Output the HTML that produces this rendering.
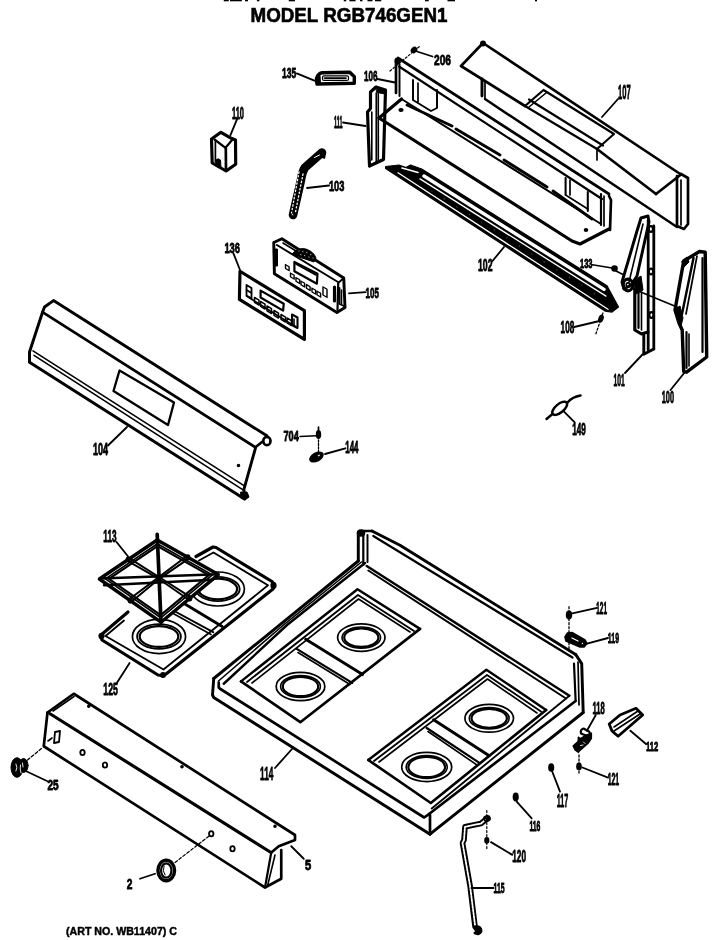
<!DOCTYPE html>
<html><head><meta charset="utf-8"><style>
html,body{margin:0;padding:0;background:#fff;}
svg{display:block;filter:grayscale(1);}
text{font-family:"Liberation Sans",sans-serif;-webkit-font-smoothing:antialiased;}
</style></head><body>
<svg width="720" height="940" viewBox="0 0 720 940" stroke="#000" fill="none" stroke-linejoin="round" stroke-linecap="round">
<text x="250.5" y="21.5" font-size="19.6" font-weight="bold" textLength="197" lengthAdjust="spacingAndGlyphs" stroke="#000" stroke-width="0.6" fill="#000">MODEL RGB746GEN1</text>
<rect x="223.75" y="0" width="5.00" height="1.3" fill="#000" stroke="none"/>
<rect x="230" y="0" width="11.90" height="1.3" fill="#000" stroke="none"/>
<rect x="245" y="0" width="3.00" height="1.3" fill="#000" stroke="none"/>
<rect x="256.9" y="0" width="2.50" height="1.3" fill="#000" stroke="none"/>
<rect x="288.75" y="0" width="6.25" height="1.3" fill="#000" stroke="none"/>
<rect x="343.75" y="0" width="2.50" height="1.3" fill="#000" stroke="none"/>
<rect x="349.4" y="0" width="6.20" height="1.3" fill="#000" stroke="none"/>
<rect x="360" y="0" width="2.50" height="1.3" fill="#000" stroke="none"/>
<rect x="367.5" y="0" width="5.00" height="1.3" fill="#000" stroke="none"/>
<rect x="375" y="0" width="6.25" height="1.3" fill="#000" stroke="none"/>
<rect x="425" y="0" width="3.75" height="1.3" fill="#000" stroke="none"/>
<rect x="447.5" y="0" width="7.50" height="1.3" fill="#000" stroke="none"/>
<rect x="535" y="0" width="2.00" height="1.3" fill="#000" stroke="none"/>
<text x="282" y="78" font-size="15.1" textLength="14.2" lengthAdjust="spacingAndGlyphs" stroke="#000" stroke-width="0.85" fill="#000" font-weight="bold">135</text>
<line x1="296.8" y1="73.4" x2="315" y2="80.8" stroke-width="1.95"/>
<path d="M316.5,78.5 Q318,73.5 322,72.8 L349.8,72.3 L354.3,76.8 L354.3,83.3 L317,84 Z" stroke-width="3.42" fill="none"/>
<rect x="322.5" y="75.8" width="26" height="4.6" rx="1.5" stroke="#000" stroke-width="1.2" fill="none"/>
<path d="M316,78 Q317,75 320,75.5 L320.5,84 L316.5,84 Z" fill="#000"/>
<line x1="324.5" y1="78.1" x2="346" y2="78.1" stroke-width="1.6"/>
<text x="232" y="118.8" font-size="16.4" textLength="12.0" lengthAdjust="spacingAndGlyphs" stroke="#000" stroke-width="0.85" fill="#000" font-weight="bold">110</text>
<line x1="236.9" y1="119.5" x2="230.5" y2="135" stroke-width="1.95"/>
<path d="M211.5,139 L220.9,132.3 L231.3,138.3 L235.5,140 L235.7,164.2 L226.1,171 L212.2,163 Z" stroke-width="3.17" fill="none"/>
<polyline points="214.5,139.5 225.5,147.8 232.5,139.5" stroke-width="2.2" fill="none"/>
<line x1="225.8" y1="148" x2="226" y2="170.5" stroke-width="2.68"/>
<line x1="215.4" y1="141" x2="215.4" y2="162" stroke-width="1.71"/>
<path d="M216,166 L216,160 Q218,157.5 220.5,160 L221,167.5 Z" fill="#000"/>
<path d="M322,152.5 L305,167.5 Q302,172 301,180 L293,215" stroke="#000" stroke-width="8.6" stroke-linecap="round" stroke-linejoin="round" fill="none"/>
<path d="M320,150 L325,154 L324.5,158 L321,157 Z" fill="#000" stroke="#000" stroke-width="1.5"/>
<path d="M299,172 L291.5,213" stroke="#fff" stroke-width="1.3" stroke-dasharray="1.3,2.4" fill="none"/>
<path d="M303,174 L295.5,212" stroke="#fff" stroke-width="1.3" stroke-dasharray="1.3,2.4" fill="none"/>
<line x1="314.5" y1="157.5" x2="319.5" y2="155" stroke="#fff" stroke-width="1"/>
<circle cx="292.8" cy="214.5" r="1.2" fill="#fff"/>
<text x="328.9" y="191.1" font-size="15.4" textLength="15.5" lengthAdjust="spacingAndGlyphs" stroke="#000" stroke-width="0.85" fill="#000" font-weight="bold">103</text>
<line x1="307" y1="188" x2="329" y2="185.5" stroke-width="1.83"/>
<text x="334" y="127.5" font-size="16.0" textLength="8.5" lengthAdjust="spacingAndGlyphs" stroke="#000" stroke-width="0.85" fill="#000" font-weight="bold">111</text>
<line x1="343" y1="122.5" x2="365.5" y2="126" stroke-width="1.83"/>
<path d="M370.5,108.5 L370.5,92 L376,87 L385.5,90 L383.5,159.5 L369.5,166 L367.5,112 Z" stroke-width="3.17" fill="none"/>
<polygon points="376,87 385.5,90 385.3,94 377,92.5" fill="#000" stroke="#000" stroke-width="1"/>
<line x1="376.3" y1="93" x2="376.3" y2="163" stroke-width="1.71"/>
<line x1="378.3" y1="93" x2="378.3" y2="162" stroke-width="1.6"/>
<line x1="371.8" y1="112" x2="371.8" y2="160" stroke-width="1.6"/>
<line x1="390" y1="71" x2="420" y2="46" stroke-width="1.2" stroke-dasharray="2,2"/>
<ellipse cx="414" cy="50" rx="2.5" ry="1.8" transform="rotate(-40 414 50)" stroke-width="2.2" fill="#000"/>
<line x1="417" y1="51.5" x2="432.5" y2="56.5" stroke-width="1.83"/>
<text x="434" y="65" font-size="15.3" textLength="17.0" lengthAdjust="spacingAndGlyphs" stroke="#000" stroke-width="0.85" fill="#000" font-weight="bold">206</text>
<text x="364" y="81" font-size="15.3" textLength="13.5" lengthAdjust="spacingAndGlyphs" stroke="#000" stroke-width="0.85" fill="#000" font-weight="bold">106</text>
<line x1="377.5" y1="79" x2="395" y2="82.5" stroke-width="1.83"/>
<line x1="398" y1="58" x2="609" y2="194" stroke-width="2.68"/>
<line x1="399" y1="66.5" x2="602" y2="199" stroke-width="2.2"/>
<line x1="396" y1="60" x2="396" y2="93" stroke-width="2.68"/>
<line x1="399.5" y1="64" x2="399.5" y2="96" stroke-width="1.95"/>
<ellipse cx="397.5" cy="61" rx="2" ry="2.5" transform="rotate(0 397.5 61)" stroke-width="1.95" fill="#000"/>
<polyline points="413,80 413,100 431,111 437,108 437,90" stroke-width="1.95" fill="none"/>
<line x1="418" y1="83" x2="418" y2="102" stroke-width="1.71"/>
<polyline points="401.5,99 379,118 572,241 580,244 609,229" stroke-width="3.17" fill="none"/>
<line x1="401.5" y1="99" x2="601" y2="224" stroke-width="1.95"/>
<line x1="407" y1="105" x2="452" y2="126" stroke-width="2.93"/>
<line x1="456" y1="129" x2="500" y2="155" stroke-width="2.93"/>
<line x1="504" y1="160" x2="547" y2="187" stroke-width="2.93"/>
<line x1="553" y1="191" x2="592" y2="219" stroke-width="2.93"/>
<polyline points="601,194 601,225" stroke-width="2.2" fill="none"/>
<polyline points="604,196 604,226" stroke-width="1.71" fill="none"/>
<polyline points="609,196 611,200 610,230" stroke-width="2.68" fill="none"/>
<line x1="565.6" y1="178" x2="565.6" y2="195" stroke-width="2.07"/>
<line x1="570" y1="180" x2="570" y2="195" stroke-width="1.71"/>
<line x1="587.8" y1="192" x2="587.8" y2="211" stroke-width="2.07"/>
<line x1="565.6" y1="195" x2="587.8" y2="209" stroke-width="1.6"/>
<ellipse cx="586" cy="230" rx="1.5" ry="1.2" transform="rotate(0 586 230)" stroke-width="1.6" fill="#000"/>
<ellipse cx="401" cy="110" rx="1.8" ry="1.3" transform="rotate(0 401 110)" stroke-width="1.6" fill="#000"/>
<ellipse cx="483" cy="43.5" rx="2.2" ry="2.2" transform="rotate(0 483 43.5)" stroke-width="1.6" fill="#000"/>
<polyline points="483,43 461,66 525,106" stroke-width="2.68" fill="none"/>
<line x1="483" y1="43" x2="681" y2="174.5" stroke-width="2.68"/>
<polyline points="525,106 543.5,90 614,134 597,149 525,106" stroke-width="2.2" fill="none"/>
<line x1="529" y1="107" x2="546" y2="93" stroke-width="1.6"/>
<line x1="529" y1="99.5" x2="603" y2="145.5" stroke-width="2.2"/>
<line x1="597" y1="149" x2="656" y2="194" stroke-width="2.68"/>
<polyline points="656,194 681,174.5" stroke-width="2.68" fill="none"/>
<line x1="482" y1="79" x2="482" y2="96" stroke-width="2.93"/>
<line x1="485" y1="81" x2="485" y2="99" stroke-width="1.71"/>
<line x1="485" y1="99" x2="677" y2="227" stroke-width="2.44"/>
<line x1="597" y1="150" x2="597" y2="160" stroke-width="1.71"/>
<polyline points="677,176 677,226 684,229 688,224 688,178 681,174" stroke-width="2.68" fill="none"/>
<line x1="681" y1="180" x2="681" y2="225" stroke-width="1.71"/>
<text x="618" y="98.6" font-size="20.3" textLength="12.6" lengthAdjust="spacingAndGlyphs" stroke="#000" stroke-width="0.85" fill="#000" font-weight="bold">107</text>
<line x1="618" y1="99" x2="602" y2="117" stroke-width="1.83"/>
<polygon points="385.6,166.5 399,165 406,167.5 410.5,165 421.7,169.0 607,285.7 618.5,307 612,312.1 605,311.1 385.6,168.5" fill="#000" stroke="#000" stroke-width="1.2" stroke-linejoin="round"/>
<line x1="424" y1="176.0" x2="604" y2="289.4" stroke="#fff" stroke-width="3.4"/>
<line x1="402" y1="168.0" x2="418" y2="172.5" stroke="#fff" stroke-width="1.6"/>
<line x1="420" y1="178.9" x2="606" y2="296.1" stroke="#fff" stroke-width="1.3"/>
<line x1="398" y1="172.8" x2="608" y2="309.3" stroke="#fff" stroke-width="1.3"/>
<circle cx="432.0" cy="191.0" r="0.8" fill="#fff"/>
<circle cx="444.5" cy="198.9" r="0.8" fill="#fff"/>
<circle cx="457.0" cy="206.7" r="0.8" fill="#fff"/>
<circle cx="469.5" cy="214.6" r="0.8" fill="#fff"/>
<circle cx="482.0" cy="222.5" r="0.8" fill="#fff"/>
<circle cx="494.5" cy="230.4" r="0.8" fill="#fff"/>
<circle cx="507.0" cy="238.2" r="0.8" fill="#fff"/>
<circle cx="519.5" cy="246.1" r="0.8" fill="#fff"/>
<circle cx="532.0" cy="254.0" r="0.8" fill="#fff"/>
<circle cx="544.5" cy="261.9" r="0.8" fill="#fff"/>
<circle cx="557.0" cy="269.7" r="0.8" fill="#fff"/>
<circle cx="569.5" cy="277.6" r="0.8" fill="#fff"/>
<circle cx="582.0" cy="285.5" r="0.8" fill="#fff"/>
<circle cx="594.5" cy="293.4" r="0.8" fill="#fff"/>
<text x="478" y="271.3" font-size="17.1" textLength="14.5" lengthAdjust="spacingAndGlyphs" stroke="#000" stroke-width="0.85" fill="#000" font-weight="bold">102</text>
<line x1="492.5" y1="261" x2="504" y2="247" stroke-width="1.83"/>
<text x="580" y="268.2" font-size="12.5" textLength="12.4" lengthAdjust="spacingAndGlyphs" stroke="#000" stroke-width="0.85" fill="#000" font-weight="bold">133</text>
<line x1="592.4" y1="264.8" x2="612" y2="268" stroke-width="1.6"/>
<ellipse cx="614.5" cy="268.5" rx="2.5" ry="2.5" transform="rotate(0 614.5 268.5)" stroke-width="1.6" fill="#000"/>
<text x="560.6" y="332.8" font-size="16.4" textLength="13.6" lengthAdjust="spacingAndGlyphs" stroke="#000" stroke-width="0.85" fill="#000" font-weight="bold">108</text>
<line x1="574.2" y1="327" x2="599.5" y2="321" stroke-width="1.83"/>
<line x1="603" y1="313" x2="595.5" y2="335" stroke-width="1.3" stroke-dasharray="2,2"/>
<ellipse cx="601" cy="318.5" rx="1.8" ry="3.2" transform="rotate(20 601 318.5)" stroke-width="1.71" fill="#000"/>
<path d="M641,218 L648,216 L649,222 L637,276 L631,285 L624,289 L622,282 L637,231 Z" stroke-width="2.93" fill="none"/>
<line x1="643" y1="224" x2="629" y2="282" stroke-width="1.6"/>
<ellipse cx="628" cy="285" rx="4.8" ry="5.8" transform="rotate(0 628 285)" stroke-width="3.17" fill="none"/>
<ellipse cx="628" cy="285" rx="1.8" ry="2.2" transform="rotate(0 628 285)" stroke-width="1.71" fill="none"/>
<path d="M633,281 L641,276 L643,290 L636,294 Z" fill="#000" stroke="#000" stroke-width="1"/>
<polyline points="648.2,220 648.2,350" stroke-width="2.81" fill="none"/>
<polyline points="653.8,226 653.8,349" stroke-width="2.81" fill="none"/>
<ellipse cx="650.8" cy="229" rx="2.2" ry="2.8" transform="rotate(0 650.8 229)" stroke-width="2.2" fill="none"/>
<ellipse cx="651" cy="271.5" rx="2.2" ry="2.8" transform="rotate(0 651 271.5)" stroke-width="2.2" fill="none"/>
<ellipse cx="651.5" cy="315" rx="2.2" ry="2.8" transform="rotate(0 651.5 315)" stroke-width="2.2" fill="none"/>
<polyline points="634.8,289 634.8,330 641.5,334 648,332" stroke-width="3.17" fill="none"/>
<line x1="638.5" y1="292" x2="638.5" y2="328" stroke-width="2.2"/>
<line x1="641.5" y1="292" x2="641.5" y2="330" stroke-width="1.6"/>
<polyline points="643.8,335 643.8,354.3 653.8,349" stroke-width="2.93" fill="none"/>
<line x1="616" y1="271" x2="624" y2="275" stroke-width="1.6"/>
<line x1="631" y1="288" x2="677" y2="307" stroke-width="1.6"/>
<text x="613.6" y="385.6" font-size="17.1" textLength="11.2" lengthAdjust="spacingAndGlyphs" stroke="#000" stroke-width="0.85" fill="#000" font-weight="bold">101</text>
<line x1="625" y1="373" x2="642.5" y2="354.5" stroke-width="1.83"/>
<path d="M683.7,261 L699.5,251.5 L705.2,252.2 L706.7,357 L686.6,372.2 L683.7,371.4 L682.2,330 L679,323 L675,310 Z" stroke-width="3.42" fill="none"/>
<line x1="693.5" y1="258" x2="682" y2="314" stroke-width="2.44"/>
<line x1="697" y1="256" x2="686" y2="314" stroke-width="1.71"/>
<line x1="686.5" y1="332" x2="686.5" y2="368" stroke-width="2.2"/>
<line x1="689" y1="334" x2="689" y2="366" stroke-width="1.6"/>
<line x1="702.5" y1="258" x2="702.5" y2="352" stroke-width="2.2"/>
<path d="M682,261 L687,257 L689,262 L684,267 Z" fill="#000"/>
<path d="M675,309 L680,306 L683,318 L681,326 Z" fill="#000"/>
<text x="661.7" y="403.4" font-size="17.2" textLength="12.3" lengthAdjust="spacingAndGlyphs" stroke="#000" stroke-width="0.85" fill="#000" font-weight="bold">100</text>
<line x1="670.5" y1="390" x2="685" y2="372" stroke-width="1.83"/>
<polygon points="240,271.25 239.4,299.4 304.4,339.4 304.4,310.6" stroke-width="3.17" fill="none"/>
<polygon points="260.6,290.6 283.75,303.75 283.1,310.6 260.6,297.5" stroke-width="2.2" fill="none"/>
<polygon points="246.5,285 251.5,288 251.5,298.5 246.5,295.5" stroke-width="1.83" fill="none"/>
<line x1="246.5" y1="290" x2="251.5" y2="293" stroke-width="1.6"/>
<polygon points="254.5,297.5 259.0,300.2 259.0,305.0 254.5,302.3" stroke="#000" stroke-width="1.5" fill="none"/>
<polygon points="260.5,301.5 265.0,304.2 265.0,309.0 260.5,306.3" stroke="#000" stroke-width="1.5" fill="none"/>
<polygon points="267,306 271.5,308.7 271.5,313.5 267,310.8" stroke="#000" stroke-width="1.5" fill="none"/>
<polygon points="274,310.5 278.5,313.2 278.5,318.0 274,315.3" stroke="#000" stroke-width="1.5" fill="none"/>
<polygon points="281,314.5 285.5,317.2 285.5,322.0 281,319.3" stroke="#000" stroke-width="1.5" fill="none"/>
<polygon points="287,318 291.5,320.7 291.5,325.5 287,322.8" stroke="#000" stroke-width="1.5" fill="none"/>
<polygon points="292,314.5 297.5,317.5 297.5,328 292,325" stroke-width="2.07" fill="none"/>
<line x1="294" y1="319" x2="294" y2="325" stroke-width="1.6"/>
<line x1="246.5" y1="296" x2="296" y2="327" stroke-width="1.6"/>
<text x="224.4" y="253.3" font-size="15.4" textLength="15.6" lengthAdjust="spacingAndGlyphs" stroke="#000" stroke-width="0.85" fill="#000" font-weight="bold">136</text>
<line x1="233.5" y1="253.5" x2="240" y2="270" stroke-width="1.83"/>
<path d="M273.75,242.5 L281.9,238.75 L343.75,278.1 L345,307.5 L336.9,312.5 L274.4,273.75 Z" stroke-width="2.93" fill="none"/>
<polyline points="276.9,245 338.75,282.5 343.75,278.1" stroke-width="1.95" fill="none"/>
<line x1="338.2" y1="283" x2="337.5" y2="310" stroke-width="2.2"/>
<line x1="283" y1="243" x2="296" y2="251" stroke-width="1.6"/>
<path d="M292,254 Q298,247 306,249 Q314,252 316,258 L314,262 L296,256 Z" fill="#000" stroke="#000" stroke-width="1"/>
<circle cx="299" cy="251" r="1.1" fill="#fff"/>
<circle cx="303" cy="251.5" r="1.1" fill="#fff"/>
<circle cx="307" cy="252.5" r="1.1" fill="#fff"/>
<circle cx="311" cy="254.5" r="1.1" fill="#fff"/>
<circle cx="301" cy="254.5" r="1.1" fill="#fff"/>
<circle cx="305" cy="255.5" r="1.1" fill="#fff"/>
<circle cx="309" cy="257" r="1.1" fill="#fff"/>
<circle cx="313" cy="258" r="1.1" fill="#fff"/>
<polygon points="294.4,261.9 317.5,273.75 316.9,283.75 294.4,271.25" stroke-width="2.2" fill="none"/>
<line x1="296" y1="264" x2="316" y2="275" stroke-width="1.6"/>
<rect x="274" y="249" width="3.5" height="17" fill="#000"/>
<rect x="285.5" y="264.5" width="3.6" height="3.8" transform="skewY(30) translate(0,-164.7)" stroke="#000" stroke-width="1.4" fill="none"/>
<rect x="290.5" y="273" width="3.6" height="3.8" transform="skewY(30) translate(0,-167.6)" stroke="#000" stroke-width="1.4" fill="none"/>
<rect x="296" y="277.5" width="3.6" height="3.8" transform="skewY(30) translate(0,-170.8)" stroke="#000" stroke-width="1.4" fill="none"/>
<rect x="301" y="281" width="3.6" height="3.8" transform="skewY(30) translate(0,-173.7)" stroke="#000" stroke-width="1.4" fill="none"/>
<rect x="306.5" y="284.5" width="3.6" height="3.8" transform="skewY(30) translate(0,-176.9)" stroke="#000" stroke-width="1.4" fill="none"/>
<rect x="312" y="288" width="3.6" height="3.8" transform="skewY(30) translate(0,-180.0)" stroke="#000" stroke-width="1.4" fill="none"/>
<rect x="317" y="291" width="3.6" height="3.8" transform="skewY(30) translate(0,-182.9)" stroke="#000" stroke-width="1.4" fill="none"/>
<rect x="323" y="287" width="4" height="8" transform="skewY(30) translate(0,-186.5)" stroke="#000" stroke-width="1.4" fill="none"/>
<line x1="334.5" y1="287" x2="334.5" y2="301" stroke-width="3.17"/>
<polyline points="339.5,288 339.5,304 344,306" stroke-width="1.83" fill="none"/>
<line x1="341.5" y1="290" x2="341.5" y2="304" stroke-width="1.6"/>
<text x="365.6" y="297.8" font-size="13.9" textLength="13.3" lengthAdjust="spacingAndGlyphs" stroke="#000" stroke-width="0.85" fill="#000" font-weight="bold">105</text>
<line x1="349" y1="293.3" x2="365.6" y2="292.2" stroke-width="1.83"/>
<path d="M42.5,312.2 L44.5,307 L53.5,300.6 L266.9,435.8" stroke-width="2.93" fill="none"/>
<line x1="42.5" y1="312.2" x2="255.4" y2="447.3" stroke-width="2.68"/>
<path d="M255.4,447.3 L262,442" stroke-width="2.68" fill="none"/>
<polyline points="42.5,312.2 29.5,352 29.5,362.2 244.5,499" stroke-width="2.93" fill="none"/>
<line x1="33" y1="350.9" x2="244" y2="485.7" stroke-width="1.6"/>
<line x1="34" y1="355.4" x2="243" y2="489.8" stroke-width="1.6"/>
<polyline points="255.4,448.3 243.9,489.4 244.5,497" stroke-width="2.93" fill="none"/>
<ellipse cx="266.9" cy="441" rx="3.6" ry="4.2" transform="rotate(0 266.9 441)" stroke-width="2.68" fill="none"/>
<path d="M241,492 L247,492 L249,497 L245,500 L241,498 Z" fill="#000"/>
<polygon points="119.5,370.5 113.5,391 168,425 174,402.5" stroke-width="2.32" fill="none"/>
<ellipse cx="238.5" cy="465.5" rx="1" ry="1" transform="rotate(0 238.5 465.5)" stroke-width="1.6" fill="#000"/>
<text x="93.1" y="455" font-size="15.6" textLength="15.0" lengthAdjust="spacingAndGlyphs" stroke="#000" stroke-width="0.85" fill="#000" font-weight="bold">104</text>
<line x1="108" y1="445.5" x2="127" y2="427" stroke-width="1.83"/>
<text x="283.5" y="441.4" font-size="14.4" textLength="15.2" lengthAdjust="spacingAndGlyphs" stroke="#000" stroke-width="0.85" fill="#000" font-weight="bold">704</text>
<line x1="300" y1="436.5" x2="316.5" y2="435.8" stroke-width="1.6"/>
<line x1="318.5" y1="427" x2="318.5" y2="430" stroke-width="1.71"/>
<ellipse cx="318.5" cy="434.5" rx="1.8" ry="3.5" transform="rotate(0 318.5 434.5)" stroke-width="1.83" fill="#000"/>
<line x1="318.5" y1="440" x2="318.5" y2="452" stroke-width="1.3" stroke-dasharray="2,1.5"/>
<ellipse cx="316.5" cy="457" rx="7" ry="3.8" transform="rotate(-28 316.5 457)" stroke-width="1.83" fill="#000"/>
<ellipse cx="318.8" cy="455.5" rx="2" ry="1.5" transform="rotate(-28 318.8 455.5)" stroke-width="1.6" fill="#fff"/>
<text x="345.3" y="453.2" font-size="15.6" textLength="13.2" lengthAdjust="spacingAndGlyphs" stroke="#000" stroke-width="0.85" fill="#000" font-weight="bold">144</text>
<line x1="325" y1="454" x2="345.3" y2="448.3" stroke-width="1.83"/>
<ellipse cx="559.7" cy="408.3" rx="9" ry="4.2" transform="rotate(-40 559.7 408.3)" stroke-width="2.44" fill="none"/>
<line x1="546.5" y1="419" x2="552.5" y2="414" stroke-width="2.44"/>
<path d="M567.5,402.5 Q572,397 580.5,395.5" stroke-width="2.44" fill="none"/>
<line x1="564" y1="411.7" x2="574.7" y2="422.4" stroke-width="1.83"/>
<text x="572.3" y="434.6" font-size="15.6" textLength="13.6" lengthAdjust="spacingAndGlyphs" stroke="#000" stroke-width="0.85" fill="#000" font-weight="bold">149</text>
<polyline points="100.4,635.5 128,612" stroke-width="3.17" fill="none"/>
<polyline points="196,556.5 213,547 216,547.5 272,581.5 274.6,585.3 273,589 166,674 162.6,675.6 158,675 102,640 100.4,635.5" stroke-width="3.17" fill="none"/>
<polyline points="105.5,636 124,620.5" stroke-width="1.83" fill="none"/>
<polyline points="199,560.5 213.5,552.5 268,585.3 163.5,669.5 105.5,636" stroke-width="1.83" fill="none"/>
<ellipse cx="273.5" cy="585.5" rx="2.3" ry="2.6" transform="rotate(0 273.5 585.5)" stroke-width="1.6" fill="#000"/>
<ellipse cx="101.5" cy="636" rx="2.2" ry="2.4" transform="rotate(0 101.5 636)" stroke-width="1.6" fill="#000"/>
<ellipse cx="163" cy="675" rx="2.2" ry="2.2" transform="rotate(0 163 675)" stroke-width="1.6" fill="#000"/>
<line x1="175" y1="598" x2="222.2" y2="626.5" stroke-width="2.93"/>
<line x1="165" y1="606" x2="213.2" y2="632.2" stroke-width="1.95"/>
<line x1="166" y1="609.5" x2="211" y2="634.5" stroke-width="1.6"/>
<ellipse cx="159" cy="636.5" rx="26.6" ry="17.1" transform="rotate(0 159 636.5)" stroke-width="1.71" fill="none"/>
<ellipse cx="159" cy="636.5" rx="21.9" ry="12.3" transform="rotate(0 159 636.5)" stroke-width="1.83" fill="none"/>
<ellipse cx="159" cy="636.5" rx="19.3" ry="10.4" transform="rotate(0 159 636.5)" stroke-width="2.2" fill="none"/>
<ellipse cx="217.8" cy="589" rx="26.6" ry="17" transform="rotate(0 217.8 589)" stroke-width="1.71" fill="none"/>
<ellipse cx="217.8" cy="589" rx="21.9" ry="12.1" transform="rotate(0 217.8 589)" stroke-width="1.83" fill="none"/>
<ellipse cx="217.8" cy="589" rx="19.3" ry="10.3" transform="rotate(0 217.8 589)" stroke-width="2.2" fill="none"/>
<text x="103.3" y="695" font-size="16.3" textLength="14.6" lengthAdjust="spacingAndGlyphs" stroke="#000" stroke-width="0.85" fill="#000" font-weight="bold">125</text>
<line x1="116.5" y1="683.5" x2="129.6" y2="663" stroke-width="1.83"/>
<polygon points="99.4,579.0 157.2,540.0 218.3,574.6 161.0,622.2" fill="#fff" stroke="none"/>
<polygon points="99.4,579.0 157.2,540.0 218.3,574.6 161.0,622.2" stroke-width="3.42" fill="none"/>
<polygon points="105.4,578.9 157.4,543.8 212.4,574.9 160.8,617.8" stroke-width="1.71" fill="none"/>
<polygon points="108.9,578.8 157.5,546.1 208.8,575.1 160.7,615.1" stroke-width="2.2" fill="none"/>
<line x1="157.2" y1="534.4" x2="161" y2="622" stroke-width="3.66"/>
<line x1="100" y1="578.5" x2="218" y2="574.2" stroke-width="2.44"/>
<line x1="104" y1="585.3" x2="213" y2="579.8" stroke-width="2.44"/>
<line x1="127.5" y1="560.9" x2="158.6" y2="578.7" stroke-width="1.95"/>
<line x1="129.1" y1="558.1" x2="159.4" y2="577.3" stroke-width="1.95"/>
<ellipse cx="128.3" cy="559.5" rx="1.8" ry="2.2" transform="rotate(0 128.3 559.5)" stroke-width="1.71" fill="#000"/>
<line x1="186.9" y1="556.0" x2="158.5" y2="577.4" stroke-width="1.95"/>
<line x1="188.7" y1="558.6" x2="159.5" y2="578.6" stroke-width="1.95"/>
<ellipse cx="187.8" cy="557.3" rx="1.8" ry="2.2" transform="rotate(0 187.8 557.3)" stroke-width="1.71" fill="#000"/>
<line x1="190.6" y1="597.1" x2="159.4" y2="577.3" stroke-width="1.95"/>
<line x1="188.8" y1="599.7" x2="158.6" y2="578.7" stroke-width="1.95"/>
<ellipse cx="189.7" cy="598.4" rx="1.8" ry="2.2" transform="rotate(0 189.7 598.4)" stroke-width="1.71" fill="#000"/>
<line x1="131.2" y1="601.9" x2="159.5" y2="578.6" stroke-width="1.95"/>
<line x1="129.2" y1="599.3" x2="158.5" y2="577.4" stroke-width="1.95"/>
<ellipse cx="130.2" cy="600.6" rx="1.8" ry="2.2" transform="rotate(0 130.2 600.6)" stroke-width="1.71" fill="#000"/>
<text x="103.3" y="541.9" font-size="16.2" textLength="13.2" lengthAdjust="spacingAndGlyphs" stroke="#000" stroke-width="0.85" fill="#000" font-weight="bold">113</text>
<line x1="116.5" y1="542" x2="128.1" y2="556.5" stroke-width="1.83"/>
<ellipse cx="361" cy="533" rx="3.5" ry="3" transform="rotate(0 361 533)" stroke-width="1.6" fill="#000"/>
<line x1="358.3" y1="533" x2="358.3" y2="561" stroke-width="2.93"/>
<line x1="363.3" y1="535" x2="363.3" y2="565" stroke-width="2.2"/>
<line x1="367.5" y1="535" x2="367.5" y2="562" stroke-width="1.95"/>
<line x1="363" y1="531" x2="372" y2="531" stroke-width="2.68"/>
<polyline points="372,531 400,545.2 575.6,654.4" stroke-width="2.93" fill="none"/>
<line x1="373.3" y1="536" x2="572.5" y2="657.5" stroke-width="2.2"/>
<line x1="366.7" y1="566" x2="569.4" y2="695.7" stroke-width="2.44"/>
<line x1="368.3" y1="570.5" x2="566" y2="698.5" stroke-width="1.95"/>
<polyline points="575.6,654.4 581.7,663.6 583.2,712.5" stroke-width="2.93" fill="none"/>
<line x1="574" y1="663.6" x2="575.6" y2="700.3" stroke-width="2.2"/>
<line x1="578" y1="662" x2="579" y2="705" stroke-width="1.71"/>
<line x1="358.3" y1="561" x2="213.75" y2="678.5" stroke-width="2.93"/>
<polyline points="361.5,562 283.5,625 218.5,681" stroke-width="1.6" fill="none"/>
<polyline points="365,563 287,625 223.75,683.75" stroke-width="2.44" fill="none"/>
<polyline points="213.75,678.5 212.5,695 213.75,697.5 430,834.2" stroke-width="2.93" fill="none"/>
<polyline points="218.75,682.5 218.75,687.5 220,688.75 424.2,817.5 430,813.3" stroke-width="2.68" fill="none"/>
<line x1="430" y1="815" x2="430" y2="834.2" stroke-width="2.68"/>
<line x1="430" y1="813.3" x2="575.6" y2="701" stroke-width="2.68"/>
<line x1="431.7" y1="808.5" x2="569.4" y2="695.7" stroke-width="1.83"/>
<line x1="430" y1="834.2" x2="583.2" y2="712.5" stroke-width="2.93"/>
<polyline points="241,681.4 357.5,589.2 420,628.9" stroke-width="2.44" fill="none"/>
<polyline points="247,682 358,595 414,631" stroke-width="1.83" fill="none"/>
<polyline points="252,683 358.5,599 410,632" stroke-width="1.6" fill="none"/>
<polyline points="241,681.4 300.3,722.2 420,628.9" stroke-width="2.68" fill="none"/>
<line x1="305.7" y1="639.2" x2="362.6" y2="674.6" stroke-width="2.93"/>
<line x1="296.7" y1="648.9" x2="352.2" y2="682.9" stroke-width="2.2"/>
<line x1="298" y1="652.5" x2="350" y2="684.5" stroke-width="1.6"/>
<ellipse cx="300.5" cy="686.5" rx="24.3" ry="14.1" transform="rotate(0 300.5 686.5)" stroke-width="1.71" fill="none"/>
<ellipse cx="300.5" cy="686.5" rx="19.9" ry="10.9" transform="rotate(0 300.5 686.5)" stroke-width="1.6" fill="none"/>
<ellipse cx="300.5" cy="686.5" rx="17.7" ry="9.7" transform="rotate(0 300.5 686.5)" stroke-width="2.2" fill="none"/>
<ellipse cx="361.3" cy="637.6" rx="23.7" ry="13.75" transform="rotate(0 361.3 637.6)" stroke-width="1.71" fill="none"/>
<ellipse cx="361.3" cy="637.6" rx="19.3" ry="10.6" transform="rotate(0 361.3 637.6)" stroke-width="1.6" fill="none"/>
<ellipse cx="361.3" cy="637.6" rx="17.1" ry="9.3" transform="rotate(0 361.3 637.6)" stroke-width="2.2" fill="none"/>
<polyline points="368.3,760 486.4,669.7 546.1,710" stroke-width="2.44" fill="none"/>
<polyline points="374,761 487,675 541,711.5" stroke-width="1.83" fill="none"/>
<polyline points="379,762 487.5,679 537,713" stroke-width="1.6" fill="none"/>
<polyline points="368.3,760 430.8,803 546.1,710" stroke-width="2.68" fill="none"/>
<line x1="433.6" y1="719.7" x2="489.2" y2="755.8" stroke-width="2.93"/>
<line x1="426.7" y1="728" x2="479.4" y2="762.8" stroke-width="2.2"/>
<line x1="428" y1="731.5" x2="477" y2="765" stroke-width="1.6"/>
<ellipse cx="489.2" cy="718.3" rx="24.3" ry="13.9" transform="rotate(0 489.2 718.3)" stroke-width="1.71" fill="none"/>
<ellipse cx="489.2" cy="718.3" rx="19.9" ry="10.7" transform="rotate(0 489.2 718.3)" stroke-width="1.6" fill="none"/>
<ellipse cx="489.2" cy="718.3" rx="17.7" ry="9.5" transform="rotate(0 489.2 718.3)" stroke-width="2.2" fill="none"/>
<ellipse cx="426.7" cy="767.0" rx="25.0" ry="14.6" transform="rotate(0 426.7 767.0)" stroke-width="1.71" fill="none"/>
<ellipse cx="426.7" cy="767.0" rx="20.6" ry="11.4" transform="rotate(0 426.7 767.0)" stroke-width="1.6" fill="none"/>
<ellipse cx="426.7" cy="767.0" rx="18.4" ry="10.2" transform="rotate(0 426.7 767.0)" stroke-width="2.2" fill="none"/>
<text x="260" y="780" font-size="18.5" textLength="13.3" lengthAdjust="spacingAndGlyphs" stroke="#000" stroke-width="0.85" fill="#000" font-weight="bold">114</text>
<line x1="275" y1="768" x2="292" y2="749" stroke-width="1.83"/>
<line x1="569" y1="606.7" x2="569" y2="649.2" stroke-width="1.3" stroke-dasharray="2,2"/>
<ellipse cx="569" cy="615" rx="2.3" ry="3.5" transform="rotate(0 569 615)" stroke-width="1.83" fill="#000"/>
<text x="596.3" y="613.5" font-size="15.7" textLength="10.7" lengthAdjust="spacingAndGlyphs" stroke="#000" stroke-width="0.85" fill="#000" font-weight="bold">121</text>
<line x1="572.4" y1="613.4" x2="597" y2="607.9" stroke-width="1.83"/>
<path d="M565,637 L567.5,633 L572,632.5 L585,640 L587,643.5 L584,647 L580,647 L566,641 Z" fill="#000" stroke="#000" stroke-width="1.6" stroke-linejoin="round"/>
<line x1="572" y1="638" x2="578" y2="641" stroke="#fff" stroke-width="1.3"/>
<circle cx="582.5" cy="643.5" r="1.1" fill="#fff"/>
<text x="607.8" y="643" font-size="15.3" textLength="11.2" lengthAdjust="spacingAndGlyphs" stroke="#000" stroke-width="0.85" fill="#000" font-weight="bold">119</text>
<line x1="587" y1="643.6" x2="608" y2="638" stroke-width="1.83"/>
<text x="592.5" y="714" font-size="15.6" textLength="12.3" lengthAdjust="spacingAndGlyphs" stroke="#000" stroke-width="0.85" fill="#000" font-weight="bold">118</text>
<line x1="595.8" y1="715" x2="586.9" y2="730.7" stroke-width="1.83"/>
<path d="M573,746 L578,741.5 L578.3,737 L580.5,738.5 L586,735 L591.5,733 L591.5,738.5 L588.5,743 L580,750.5 L578.5,752.5 L575,750 Z" fill="#000" stroke="#000" stroke-width="1.2" stroke-linejoin="round"/>
<path d="M581,733.5 Q580,729.5 583.5,728.5 L589,731.5 L590.5,734 L587,736 Z" fill="none" stroke="#000" stroke-width="2.2" stroke-linejoin="round"/>
<path d="M583.5,742 L585,743.5 M580.5,745.5 L583,745" stroke="#fff" stroke-width="0.9" fill="none"/>
<line x1="579" y1="755" x2="579" y2="775" stroke-width="1.3" stroke-dasharray="2,2"/>
<ellipse cx="579" cy="766.4" rx="2" ry="3" transform="rotate(0 579 766.4)" stroke-width="1.71" fill="#000"/>
<text x="607.7" y="784.6" font-size="16.0" textLength="11.5" lengthAdjust="spacingAndGlyphs" stroke="#000" stroke-width="0.85" fill="#000" font-weight="bold">121</text>
<line x1="582.4" y1="767.5" x2="608" y2="777.6" stroke-width="1.83"/>
<path d="M609.2,724 L620,715 L636,708.3 L642.7,715 L618.1,736.3 L612,731 Z" stroke-width="2.81" fill="none"/>
<line x1="614" y1="727" x2="638" y2="711" stroke-width="1.6"/>
<line x1="614" y1="731" x2="640" y2="714" stroke-width="1.6"/>
<text x="646" y="750.8" font-size="12.5" textLength="12.3" lengthAdjust="spacingAndGlyphs" stroke="#000" stroke-width="0.85" fill="#000" font-weight="bold">112</text>
<line x1="630.4" y1="730.7" x2="646" y2="744" stroke-width="1.83"/>
<ellipse cx="551.2" cy="767.5" rx="2.2" ry="3.5" transform="rotate(0 551.2 767.5)" stroke-width="1.71" fill="#000"/>
<line x1="552" y1="771" x2="560" y2="791.7" stroke-width="1.83"/>
<text x="556.7" y="806.7" font-size="18.6" textLength="11.6" lengthAdjust="spacingAndGlyphs" stroke="#000" stroke-width="0.85" fill="#000" font-weight="bold">117</text>
<ellipse cx="515.7" cy="797" rx="2.2" ry="3.6" transform="rotate(0 515.7 797)" stroke-width="1.71" fill="#000"/>
<line x1="516.7" y1="801.7" x2="531.7" y2="818.3" stroke-width="1.83"/>
<text x="529.4" y="831.1" font-size="14.2" textLength="11.0" lengthAdjust="spacingAndGlyphs" stroke="#000" stroke-width="0.85" fill="#000" font-weight="bold">116</text>
<line x1="486.8" y1="810.6" x2="486.8" y2="849.8" stroke-width="1.2" stroke-dasharray="2,2"/>
<ellipse cx="486.8" cy="840.4" rx="1.8" ry="2.5" transform="rotate(0 486.8 840.4)" stroke-width="1.6" fill="#000"/>
<line x1="491" y1="842.1" x2="512.3" y2="854.9" stroke-width="1.83"/>
<text x="512.3" y="861.7" font-size="16.5" textLength="13.7" lengthAdjust="spacingAndGlyphs" stroke="#000" stroke-width="0.85" fill="#000" font-weight="bold">120</text>
<path d="M487,818.5 L481,823.5 L465,826.8 L464,840 L462.5,843 L470,885.5 L475,926.5 L479,931.5" stroke="#000" stroke-width="5.6" fill="none"/>
<path d="M485,820 L481,823.5 L465,826.8 L464,840 L462.5,843 L470,885.5 L475,925" stroke="#fff" stroke-width="1.8" fill="none" stroke-dasharray="2.2,1.2"/>
<path d="M475,927 Q481,926 481,931 Q479,935 475,933" stroke="#000" stroke-width="3" fill="#000"/>
<ellipse cx="487" cy="818.5" rx="3" ry="2.5" transform="rotate(-20 487 818.5)" stroke-width="1.83" fill="none"/>
<line x1="471.5" y1="888" x2="493.6" y2="888" stroke-width="1.83"/>
<text x="493.6" y="893.2" font-size="14.2" textLength="11.1" lengthAdjust="spacingAndGlyphs" stroke="#000" stroke-width="0.85" fill="#000" font-weight="bold">115</text>
<polyline points="47.5,712.5 73.75,693.75 295,835 295,840 278.75,846.25 271.25,852.5" stroke-width="2.68" fill="none"/>
<line x1="50" y1="713.75" x2="271" y2="852.5" stroke-width="3.17"/>
<line x1="53" y1="711" x2="74" y2="696.5" stroke-width="1.6"/>
<polyline points="47.5,712.5 43.75,746.25 265,887.5 281.25,878.75 281.25,850" stroke-width="2.68" fill="none"/>
<line x1="271.25" y1="852.5" x2="265" y2="887.5" stroke-width="2.2"/>
<line x1="275" y1="855" x2="267.5" y2="886" stroke-width="1.6"/>
<ellipse cx="82.5" cy="752.5" rx="2.2" ry="2.6" transform="rotate(0 82.5 752.5)" stroke-width="1.83" fill="none"/>
<ellipse cx="105" cy="765" rx="2.2" ry="2.6" transform="rotate(0 105 765)" stroke-width="1.83" fill="none"/>
<ellipse cx="211.25" cy="833.75" rx="2.2" ry="2.6" transform="rotate(0 211.25 833.75)" stroke-width="1.83" fill="none"/>
<ellipse cx="232.5" cy="848.75" rx="2.2" ry="2.6" transform="rotate(0 232.5 848.75)" stroke-width="1.83" fill="none"/>
<ellipse cx="88.75" cy="706.25" rx="1" ry="1" transform="rotate(0 88.75 706.25)" stroke-width="1.6" fill="#000"/>
<ellipse cx="182" cy="766.7" rx="1" ry="1" transform="rotate(0 182 766.7)" stroke-width="1.6" fill="#000"/>
<ellipse cx="275" cy="826.25" rx="1" ry="1" transform="rotate(0 275 826.25)" stroke-width="1.6" fill="#000"/>
<path d="M55,732 L60,731 L59,742 L54,743 Z" stroke-width="1.83" fill="none"/>
<line x1="52" y1="738" x2="48" y2="741" stroke-width="1.6"/>
<line x1="27.5" y1="760" x2="41.7" y2="748.3" stroke-width="1.3" stroke-dasharray="3,2"/>
<ellipse cx="17" cy="767.5" rx="6" ry="9.8" fill="#000" stroke="#000" stroke-width="1"/>
<ellipse cx="23.5" cy="765.5" rx="4.6" ry="7" fill="#000" stroke="#000" stroke-width="1"/>
<path d="M16,764 Q18,767 16,771 M20.5,765 Q19.5,769 21,773 M22.5,763 L23,767" stroke="#fff" stroke-width="0.9" fill="none"/>
<line x1="26.25" y1="771.25" x2="47.5" y2="781.25" stroke-width="1.83"/>
<text x="47.5" y="790" font-size="13.9" textLength="11.2" lengthAdjust="spacingAndGlyphs" stroke="#000" stroke-width="0.85" fill="#000" font-weight="bold">25</text>
<ellipse cx="166.25" cy="870.5" rx="8.3" ry="10.3" transform="rotate(0 166.25 870.5)" stroke-width="3.42" fill="none"/>
<ellipse cx="166.25" cy="870.5" rx="5.2" ry="7.2" transform="rotate(0 166.25 870.5)" stroke-width="2.2" fill="none"/>
<path d="M164,866 Q162,871 165,875" stroke="#000" stroke-width="1" fill="none"/>
<line x1="175" y1="862.5" x2="208.75" y2="836.25" stroke-width="1.2" stroke-dasharray="3,2"/>
<line x1="140" y1="878.75" x2="155" y2="873.75" stroke-width="1.83"/>
<text x="126.7" y="888.9" font-size="15.4" textLength="5.7" lengthAdjust="spacingAndGlyphs" stroke="#000" stroke-width="0.85" fill="#000" font-weight="bold">2</text>
<line x1="291.25" y1="846.25" x2="303.75" y2="858.75" stroke-width="1.83"/>
<text x="305" y="870" font-size="13.9" textLength="6.2" lengthAdjust="spacingAndGlyphs" stroke="#000" stroke-width="0.85" fill="#000" font-weight="bold">5</text>
<text x="66" y="934.6" font-size="10.4" font-weight="bold" textLength="111" lengthAdjust="spacingAndGlyphs" stroke="#000" stroke-width="0.45" fill="#000">(ART NO. WB11407) C</text>
</svg>
</body></html>
